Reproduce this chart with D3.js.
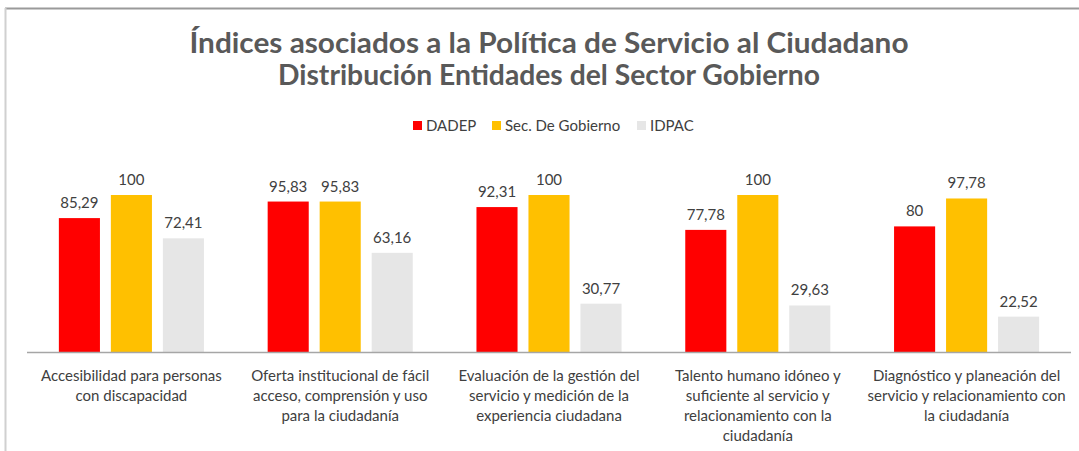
<!DOCTYPE html>
<html>
<head>
<meta charset="utf-8">
<script src="https://cdn.jsdelivr.net/npm/d3@7"></script>
<style>
  html, body { margin: 0; padding: 0; background: #fff; }
  svg { display: block; }
</style>
</head>
<body>
<svg id="chart" width="1079" height="451"></svg>
<script>
const titleLines = ["Índices asociados a la Política de Servicio al Ciudadano", "Distribución Entidades del Sector Gobierno"];
const categories = [
  ["Accesibilidad para personas", "con discapacidad"],
  ["Oferta institucional de fácil", "acceso, comprensión y uso", "para la ciudadanía"],
  ["Evaluación de la gestión del", "servicio y medición de la", "experiencia ciudadana"],
  ["Talento humano idóneo y", "suficiente al servicio y", "relacionamiento con la", "ciudadanía"],
  ["Diagnóstico y planeación del", "servicio y relacionamiento con", "la ciudadanía"]
];
const seriesNames = ["DADEP", "Sec. De Gobierno", "IDPAC"];
const dadep = [85.29, 95.83, 92.31, 77.78, 80];
const secGobierno = [100, 95.83, 100, 100, 97.78];
const idpac = [72.41, 63.16, 30.77, 29.63, 22.52];
const colors = ["#FF0000", "#FFC000", "#E6E6E6"];

const seriesValues = [dadep, secGobierno, idpac];
const svg = d3.select("#chart");
const FONT = "Lato, 'Open Sans', sans-serif";

// frame
svg.append("line").attr("x1", 5).attr("x2", 1079).attr("y1", 8.5).attr("y2", 8.5)
  .attr("stroke", "#9a9a9a").attr("stroke-width", 2);
svg.append("line").attr("x1", 5.5).attr("x2", 5.5).attr("y1", 8).attr("y2", 451)
  .attr("stroke", "#d0d0d0").attr("stroke-width", 2);

// scales
const x0 = d3.scaleBand().domain(d3.range(categories.length)).range([27, 1071]).padding(0);
const x1 = d3.scaleBand().domain(d3.range(seriesNames.length)).range([-78, 78]).paddingInner(0.21).paddingOuter(0.105);
const y = d3.scaleLinear().domain([0, 100]).range([352, 195]);
const cx = i => x0(i) + x0.bandwidth() / 2;

// title
const titleY = [53, 85];
const titleW = [719, 542];
titleLines.forEach((t, i) => {
  svg.append("text").attr("x", 549).attr("y", titleY[i])
    .attr("text-anchor", "middle")
    .attr("font-family", FONT)
    .attr("font-weight", "bold").attr("font-size", 28)
    .attr("textLength", titleW[i]).attr("lengthAdjust", "spacingAndGlyphs")
    .attr("fill", "#595959").text(t);
});

// legend
const legendX = [413, 492, 637];
seriesNames.forEach((n, i) => {
  const g = svg.append("g").attr("transform", `translate(${legendX[i]},121)`);
  g.append("rect").attr("width", 9).attr("height", 9).attr("fill", colors[i]);
  g.append("text").attr("x", 13).attr("y", 10)
    .attr("font-family", FONT).attr("font-size", 15)
    .attr("fill", "#404040").text(n);
});

const groups = svg.append("g").selectAll("g").data(categories).join("g")
  .attr("transform", (d, i) => `translate(${cx(i)},0)`);

groups.each(function (cat, ci) {
  const g = d3.select(this);
  seriesValues.forEach((vals, si) => {
    const v = vals[ci];
    g.append("rect")
      .attr("x", x1(si)).attr("width", x1.bandwidth())
      .attr("y", y(v)).attr("height", y(0) - y(v))
      .attr("fill", colors[si]);
    g.append("text")
      .attr("x", x1(si) + x1.bandwidth() / 2).attr("y", y(v) - 10)
      .attr("text-anchor", "middle")
      .attr("font-family", FONT).attr("font-size", 15)
      .attr("fill", "#404040")
      .text(String(v).replace(".", ","));
  });
});

// axis baseline
svg.append("line").attr("x1", x0.range()[0]).attr("x2", x0.range()[1])
  .attr("y1", y(0) + 0.5).attr("y2", y(0) + 0.5)
  .attr("stroke", "#A6A6A6").attr("stroke-width", 1.5);

// category labels
categories.forEach((lines, ci) => {
  const t = svg.append("text")
    .attr("x", cx(ci)).attr("y", 380.5)
    .attr("text-anchor", "middle")
    .attr("font-family", FONT).attr("font-size", 15)
    .attr("fill", "#404040");
  lines.forEach((l, li) => {
    t.append("tspan").attr("x", cx(ci)).attr("dy", li === 0 ? 0 : 20.3).text(l);
  });
});
</script>
</body>
</html>
